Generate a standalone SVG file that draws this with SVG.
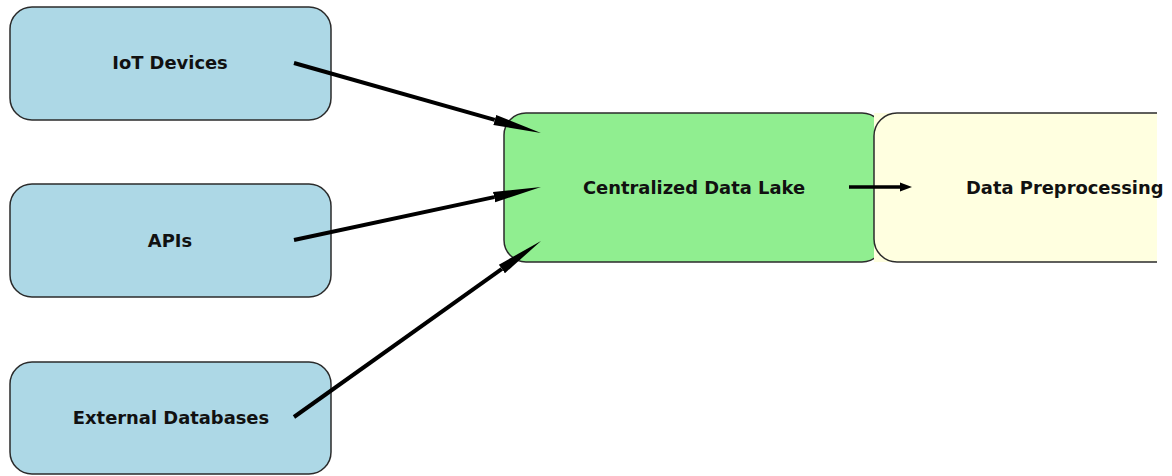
<svg xmlns="http://www.w3.org/2000/svg" width="1172" height="476" viewBox="0 0 1172 476">
  <defs>
    <style>
      .box { stroke: #2b2b2b; stroke-width: 1.5; }
      .src { fill: #ADD8E6; }
      .lake { fill: #90EE90; }
      .prep { fill: #FFFFE0; }
      .label { font-family: "DejaVu Sans", sans-serif; font-weight: bold; font-size: 17.9px; fill: #111; dominant-baseline: central; }
      .edge { stroke: #000; stroke-width: 4; fill: none; }
      .edge-s { stroke: #000; stroke-width: 3.5; fill: none; }
    </style>
    <marker id="head" markerUnits="userSpaceOnUse" markerWidth="50" markerHeight="14" viewBox="0 -7 50 14" refX="0" refY="0" orient="auto">
      <path d="M0,-5.2 L48,0 L0,5.2 Z" fill="#000"/>
    </marker>
    <marker id="head-s" markerUnits="userSpaceOnUse" markerWidth="14" markerHeight="10" viewBox="0 -5 14 10" refX="0" refY="0" orient="auto">
      <path d="M0,-4.5 L12,0 L0,4.5 Z" fill="#000"/>
    </marker>
  </defs>

  <rect width="1172" height="476" fill="#fff"/>

  <g id="iot-devices">
    <rect class="box src" x="10" y="7" width="321" height="113" rx="22" ry="22"/>
    <text class="label" x="170" y="62" text-anchor="middle">IoT Devices</text>
  </g>

  <g id="apis">
    <rect class="box src" x="10" y="184" width="321" height="113" rx="22" ry="22"/>
    <text class="label" x="170" y="240" text-anchor="middle">APIs</text>
  </g>

  <g id="external-databases">
    <rect class="box src" x="10" y="362" width="321" height="112" rx="22" ry="22"/>
    <text class="label" x="171" y="417" text-anchor="middle">External Databases</text>
  </g>

  <g id="data-lake">
    <rect class="box lake" x="504" y="113" width="380" height="149" rx="22" ry="22"/>
    <text class="label" x="694" y="187" text-anchor="middle">Centralized Data Lake</text>
  </g>

  <g id="data-preprocessing">
    <rect class="prep" x="874" y="113" width="283" height="149"/>
    <path class="box" fill="#FFFFE0" d="M1157,113 H897 A23,23 0 0 0 874,136 V239 A23,23 0 0 0 897,262 H1157"/>
    <text class="label" x="966" y="187" text-anchor="start">Data Preprocessing</text>
  </g>

  <g id="connectors">
    <path class="edge" d="M294,63 L494.8,119.9" marker-end="url(#head)"/>
    <path class="edge" d="M294,240 L494.1,197.1" marker-end="url(#head)"/>
    <path class="edge" d="M294,417 L501.9,268.9" marker-end="url(#head)"/>
    <path class="edge-s" d="M849,187 L900,187" marker-end="url(#head-s)"/>
  </g>
</svg>
